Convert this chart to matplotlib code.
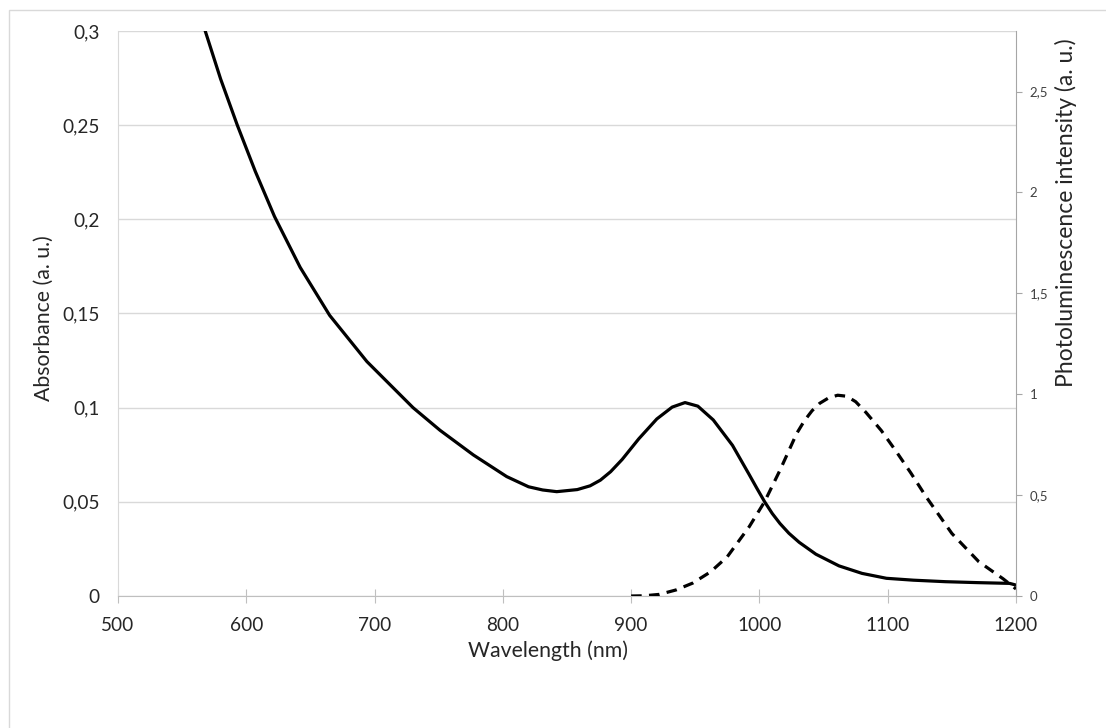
import matplotlib
matplotlib.use('Agg')
import matplotlib.pyplot as plt
from matplotlib.ticker import FuncFormatter, MultipleLocator
from matplotlib.patches import Rectangle

# absorbance spectrum (left axis)
wl_abs = [555, 568, 580, 593, 607, 622, 642, 665, 694, 730, 751, 777, 803, 820, 831,
          842, 858, 868, 876, 884, 893, 906, 920, 932, 942, 952, 964, 979, 992, 998,
          1004, 1010, 1016, 1023, 1031, 1044, 1062, 1080, 1099, 1120, 1145, 1170,
          1195, 1200]
absorbance = [0.330, 0.300, 0.2745, 0.250, 0.2255, 0.2015, 0.1745, 0.149, 0.1245, 0.100,
              0.088, 0.0749, 0.0634, 0.058, 0.0563, 0.0554, 0.0565, 0.0585, 0.0615,
              0.066, 0.0725, 0.0835, 0.094, 0.1003, 0.1027, 0.1008, 0.0935, 0.0800,
              0.0645, 0.0572, 0.0501, 0.0438, 0.0385, 0.0333, 0.0285, 0.0222, 0.0160,
              0.0120, 0.0094, 0.0084, 0.0076, 0.0071, 0.0067, 0.0058]

# photoluminescence spectrum (right axis)
wl_pl = [900, 910, 922, 935, 948, 962, 975, 992, 1004, 1016, 1029, 1035, 1041, 1047,
         1054, 1061, 1068, 1075, 1083, 1095, 1106, 1118, 1130, 1150, 1171, 1190, 1200]
pl = [0.0, 0.001, 0.008, 0.03, 0.064, 0.12, 0.195, 0.343, 0.467, 0.623, 0.805, 0.868,
      0.918, 0.955, 0.982, 0.995, 0.99, 0.963, 0.91, 0.82, 0.722, 0.61, 0.491, 0.31,
      0.17, 0.085, 0.035]

plt.rcParams['font.family'] = ['Lato', 'DejaVu Sans']

W, H = 1106, 728
fig = plt.figure(figsize=(W / 100, H / 100), dpi=100)
fig.add_artist(Rectangle((9 / W, -0.1), 1.2, 1 - 10 / H + 0.1, transform=fig.transFigure,
                         fill=False, edgecolor='#d9d9d9', linewidth=1))

ax = fig.add_axes([118 / W, 1 - 596 / H, (1016 - 118) / W, (596 - 31) / H])
ax2 = ax.twinx()

comma = FuncFormatter(lambda v, p: ('%g' % round(v, 3)).replace('.', ','))

ax.plot(wl_abs, absorbance, color='black', linewidth=2.3, solid_joinstyle='round')
ax2.plot(wl_pl, pl, color='black', linewidth=2.3, dashes=(3.3, 2.3))

ax.set_xlim(500, 1200)
ax.set_ylim(0, 0.3)
ax2.set_ylim(0, 2.8)
ax.xaxis.set_major_locator(MultipleLocator(100))
ax.yaxis.set_major_locator(MultipleLocator(0.05))
ax2.yaxis.set_major_locator(MultipleLocator(0.5))
ax.yaxis.set_major_formatter(comma)
ax2.yaxis.set_major_formatter(comma)

ax.grid(axis='y', color='#d9d9d9', linewidth=1)
ax.set_axisbelow(True)

ax.spines['top'].set_visible(False)
ax2.spines['top'].set_visible(False)
ax.spines['right'].set_visible(False)
ax2.spines['left'].set_visible(False)
ax2.spines['bottom'].set_visible(False)
ax.spines['left'].set_color('#d9d9d9')
ax.spines['bottom'].set_color('#bfbfbf')
ax2.spines['right'].set_color('#a6a6a6')

ax.tick_params(axis='y', length=0, pad=13, labelsize=13.7, labelcolor='#262626')
ax.tick_params(axis='x', direction='inout', length=10, color='#bfbfbf', pad=10,
               labelsize=13.7, labelcolor='#262626')
ax2.tick_params(axis='y', direction='out', length=4, color='#a6a6a6', pad=6,
                labelsize=9.5, labelcolor='#404040')

fig.text(548 / W, 1 - 651 / H, 'Wavelength (nm)', ha='center', va='center',
         fontsize=15.3, color='#262626')
fig.text(44 / W, 1 - 318 / H, 'Absorbance (a. u.)', ha='center', va='center',
         rotation=90, fontsize=15.3, color='#262626')
fig.text(1066 / W, 1 - 213 / H, 'Photoluminescence intensity (a. u.)', ha='center',
         va='center', rotation=90, fontsize=16.5, color='#262626')

fig.savefig('out.png', dpi=100)
